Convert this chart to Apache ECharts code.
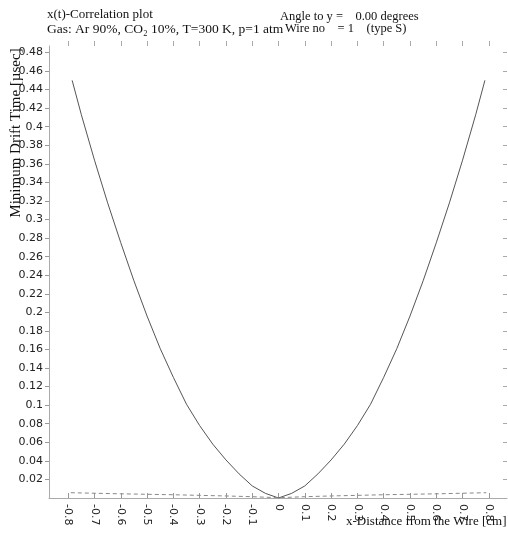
<!DOCTYPE html>
<html><head><meta charset="utf-8">
<script src="https://cdn.jsdelivr.net/npm/echarts@6/dist/echarts.min.js"></script>
<style>html,body{margin:0;padding:0;background:#fff}#c{width:508px;height:534px}</style>
</head><body><div id="c"></div>
<script>
var xPositions = [-0.785,-0.75,-0.7,-0.65,-0.6,-0.55,-0.5,-0.45,-0.4,-0.35,-0.3,-0.25,-0.2,-0.15,-0.1,-0.05,0,0.05,0.1,0.15,0.2,0.25,0.3,0.35,0.4,0.45,0.5,0.55,0.6,0.65,0.7,0.75,0.785];
var driftTimes = [0.450,0.413,0.364,0.318,0.275,0.234,0.196,0.161,0.130,0.101,0.078,0.058,0.041,0.026,0.013,0.005,0.000,0.005,0.013,0.026,0.041,0.058,0.078,0.101,0.130,0.161,0.196,0.234,0.275,0.318,0.364,0.413,0.450];
var dashX = [-0.79,-0.6,-0.4,-0.2,-0.1,0,0.1,0.2,0.4,0.6,0.79];
var dashY = [0.0057,0.0045,0.0035,0.0022,0.0014,0.0003,0.0014,0.0022,0.0035,0.0045,0.0057];
var xTicks = [-0.8,-0.7,-0.6,-0.5,-0.4,-0.3,-0.2,-0.1,0,0.1,0.2,0.3,0.4,0.5,0.6,0.7,0.8];
var yTicks = [0.02,0.04,0.06,0.08,0.1,0.12,0.14,0.16,0.18,0.2,0.22,0.24,0.26,0.28,0.3,0.32,0.34,0.36,0.38,0.4,0.42,0.44,0.46,0.48];

var serif = '"Liberation Serif","DejaVu Serif",serif';
var sans = '"DejaVu Sans","Liberation Sans",sans-serif';
var chart = echarts.init(document.getElementById('c'));
function pairs(xs, ys){ return xs.map(function(x,i){return [x, ys[i]];}); }
var lbl = function(v){ return String(Math.round(v*100)/100); };
chart.setOption({
  animation:false,
  grid:{left:49,right:1,top:46,bottom:36},
  xAxis:[{
    type:'value', min:-0.873, max:0.869, position:'bottom',
    axisLine:{show:true,onZero:false,lineStyle:{color:'#aaa',width:1}},
    axisTick:{show:true,inside:true,length:5,customValues:xTicks,lineStyle:{color:'#999'}},
    axisLabel:{customValues:xTicks,rotate:-90,margin:6,fontFamily:sans,fontSize:11,color:'#222',formatter:lbl},
    splitLine:{show:false}
  },{
    type:'value', min:-0.873, max:0.869, position:'top',
    axisLine:{show:false,onZero:false},
    axisTick:{show:true,inside:false,length:5,customValues:xTicks,lineStyle:{color:'#aaa'}},
    axisLabel:{show:false},
    splitLine:{show:false}
  }],
  yAxis:[{
    type:'value', min:0, max:0.487, position:'left',
    axisLine:{show:true,onZero:false,lineStyle:{color:'#aaa',width:1}},
    axisTick:{show:true,inside:false,length:4,customValues:yTicks,lineStyle:{color:'#999'}},
    axisLabel:{customValues:yTicks,margin:6,fontFamily:sans,fontSize:11,color:'#222',formatter:lbl},
    splitLine:{show:false}
  },{
    type:'value', min:0, max:0.487, position:'right',
    axisLine:{show:false,onZero:false},
    axisTick:{show:true,inside:true,length:4,customValues:yTicks,lineStyle:{color:'#aaa'}},
    axisLabel:{show:false},
    splitLine:{show:false}
  }],
  series:[{
    type:'line', data:pairs(xPositions, driftTimes), showSymbol:false, symbol:'none',
    lineStyle:{color:'#555',width:1}, smooth:false
  },{
    type:'line', data:pairs(dashX, dashY), showSymbol:false, symbol:'none',
    lineStyle:{color:'#888',width:1,type:[4,3]}
  }],
  graphic:[
    {type:'text',left:47,top:8,style:{text:'x(t)-Correlation plot',font:'13px '+serif,fill:'#111'}},
    {type:'text',left:47,top:22,style:{text:'Gas: Ar 90%, CO\u2082 10%, T=300 K, p=1 atm',font:'13.5px '+serif,fill:'#111'}},
    {type:'text',left:280,top:10,style:{text:'Angle to y =    0.00 degrees',font:'12.5px '+serif,fill:'#111'}},
    {type:'text',left:285,top:22,style:{text:'Wire no    = 1    (type S)',font:'12.5px '+serif,fill:'#111'}},
    {type:'text',x:346,y:515,style:{text:'x-Distance from the Wire [cm]',font:'13px '+serif,fill:'#111'}},
    {type:'text',x:9,y:133,rotation:Math.PI/2,style:{text:'Minimum Drift Time [\u00b5sec]',font:'15px '+serif,fill:'#111',align:'center',verticalAlign:'top'}}
  ]
});
</script></body></html>
